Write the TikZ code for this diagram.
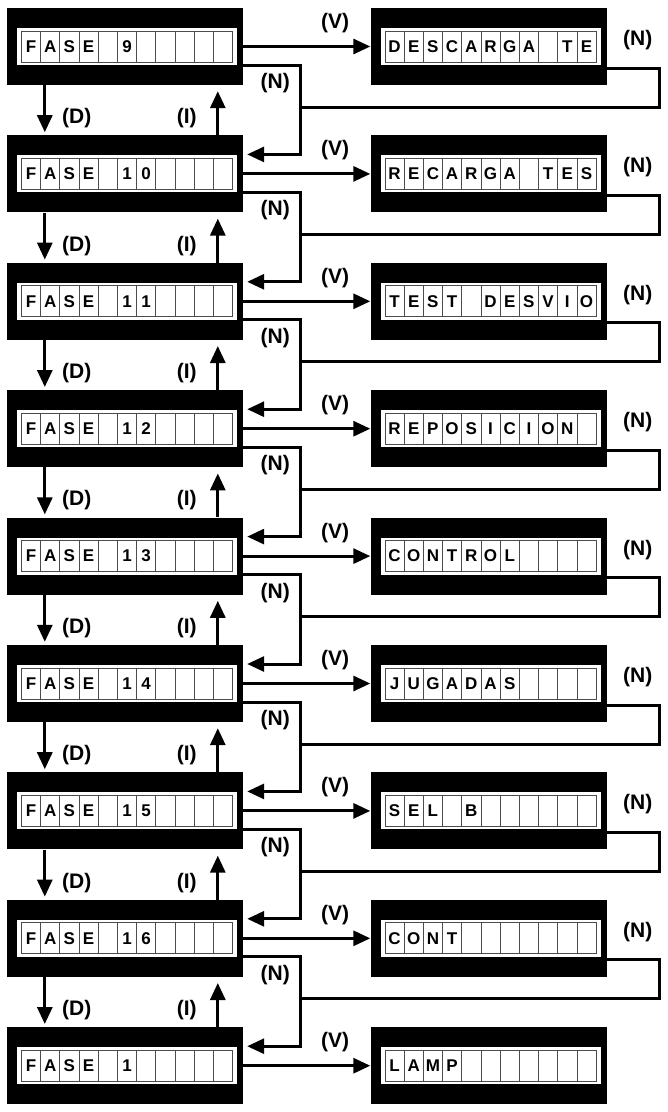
\documentclass[tikz,border=0pt]{standalone}
\usepackage{fontspec}
\setmainfont{Liberation Sans}[BoldFont={Liberation Sans Bold}]
\newfontfamily\boldsans{Liberation Sans Bold}
\usetikzlibrary{arrows.meta,calc}

\tikzset{
  blackbox/.style={fill=black,draw=none,minimum width=236pt,minimum height=77pt,inner sep=0pt},
  stripbox/.style={fill=white,draw=none,minimum width=220pt,minimum height=37pt,inner sep=0pt},
  cellbox/.style={draw=black!70,line width=0.8pt,fill=white,minimum width=19.2pt,minimum height=31pt,inner sep=0pt,
    font=\boldsans\fontsize{17}{17}\selectfont},
  lbl/.style={font=\boldsans\fontsize{21}{21}\selectfont,inner sep=0pt},
  conn/.style={line width=3pt},
  arr/.style={conn,-{Triangle[length=17pt,width=15pt]}},
}

\newcommand\lcdbox[4]{%
  \node[blackbox] (#1) at ({#2},{#3+38.5}) {};
  \node[stripbox] (#1s) at ({#2+2},{#3+38.5}) {};
  \foreach \c [count=\k] in {#4} {
    \node[cellbox] (#1c\k) at ({#2+2-105.6+19.2*(\k-0.5)},{#3+38.5}) {\c};
  }
}

\begin{document}
\begin{tikzpicture}[x=1pt,y=-1pt]
\useasboundingbox (0,0) rectangle (668,1112);

\lcdbox{L0}{125}{8}{F,A,S,E,{},9,{},{},{},{},{}}
\lcdbox{L1}{125}{135.4}{F,A,S,E,{},1,0,{},{},{},{}}
\lcdbox{L2}{125}{262.8}{F,A,S,E,{},1,1,{},{},{},{}}
\lcdbox{L3}{125}{390.2}{F,A,S,E,{},1,2,{},{},{},{}}
\lcdbox{L4}{125}{517.6}{F,A,S,E,{},1,3,{},{},{},{}}
\lcdbox{L5}{125}{645.0}{F,A,S,E,{},1,4,{},{},{},{}}
\lcdbox{L6}{125}{772.4}{F,A,S,E,{},1,5,{},{},{},{}}
\lcdbox{L7}{125}{899.8}{F,A,S,E,{},1,6,{},{},{},{}}
\lcdbox{L8}{125}{1027.2}{F,A,S,E,{},1,{},{},{},{},{}}

\lcdbox{R0}{488.5}{8}{D,E,S,C,A,R,G,A,{},T,E}
\lcdbox{R1}{488.5}{135.4}{R,E,C,A,R,G,A,{},T,E,S}
\lcdbox{R2}{488.5}{262.8}{T,E,S,T,{},D,E,S,V,I,O}
\lcdbox{R3}{488.5}{390.2}{R,E,P,O,S,I,C,I,O,N,{}}
\lcdbox{R4}{488.5}{517.6}{C,O,N,T,R,O,L,{},{},{},{}}
\lcdbox{R5}{488.5}{645.0}{J,U,G,A,D,A,S,{},{},{},{}}
\lcdbox{R6}{488.5}{772.4}{S,E,L,{},B,{},{},{},{},{},{}}
\lcdbox{R7}{488.5}{899.8}{C,O,N,T,{},{},{},{},{},{},{}}
\lcdbox{R8}{488.5}{1027.2}{L,A,M,P,{},{},{},{},{},{},{}}

% V connectors and labels
\foreach \i in {0,...,8} {
  \draw[arr] (L\i.east) -- (R\i.west);
  \node[lbl] (V\i) at ($(L\i.east)+(92,-23.5)$) {(V)};
}

\foreach \i [evaluate=\i as \j using int(\i+1)] in {0,...,7} {
  % D down
  \draw[arr] ($(L\i.south west)+(38,0)$) -- ($(L\j.north west)+(38,-3)$);
  \node[lbl] (D\i) at ($(L\i.south west)+(70,33)$) {(D)};
  % I up
  \draw[arr] ($(L\j.north west)+(211,0)$) -- ($(L\i.south west)+(211,6)$);
  \node[lbl] (I\i) at ($(L\i.south west)+(180,33)$) {(I)};
  % N from left box to next
  \draw[arr] ($(L\i.east)+(0,18.5)$) -- ++(57,0) |- ($(L\j.east)+(4,-19.5)$);
  \node[lbl] (NL\i) at ($(L\i.east)+(32,36.5)$) {(N)};
  % N from right box back
  \draw[conn] ($(R\i.east)+(0,21.5)$) -- ++(53,0) |- ($(L\i.east)+(57,60.5)$);
  \node[lbl] (NR\i) at ($(R\i.east)+(31,-6.5)$) {(N)};
}
\end{tikzpicture}
\end{document}
